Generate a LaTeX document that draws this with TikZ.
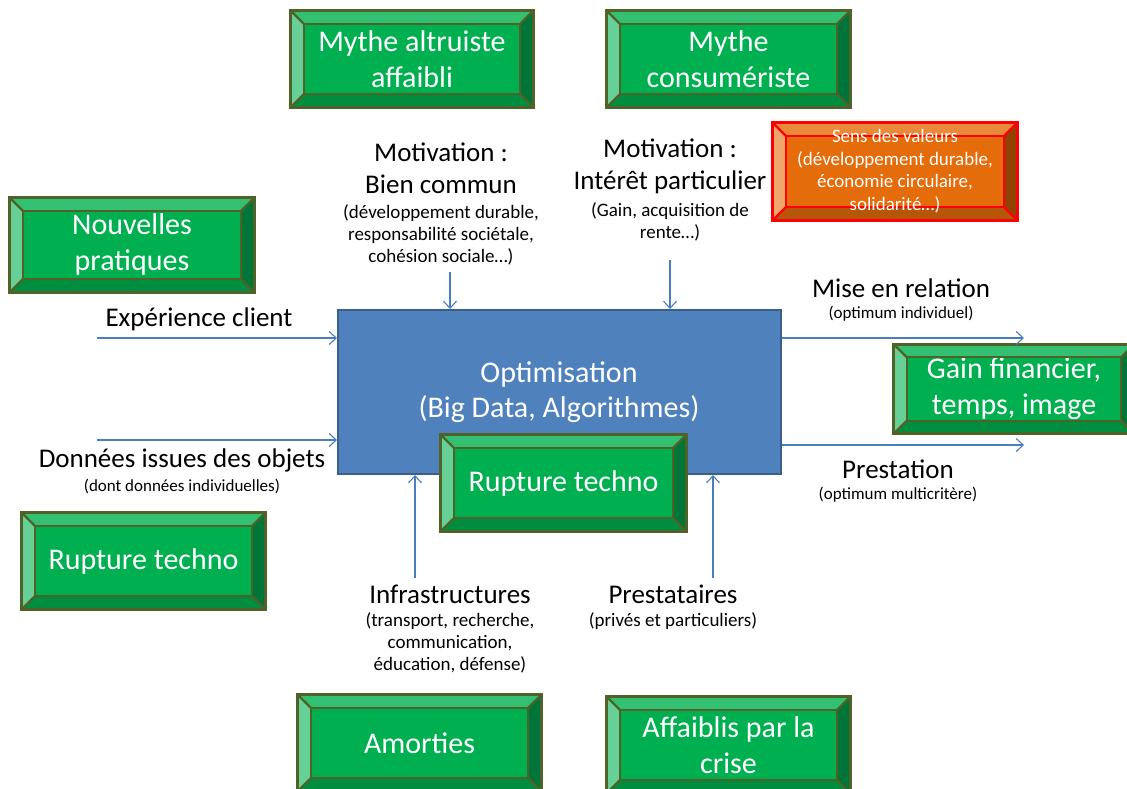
\documentclass[tikz,border=0pt]{standalone}
\usepackage{fontspec}
\setmainfont{Carlito}
\usetikzlibrary{arrows.meta,calc}
\definecolor{gface}{HTML}{00B050}
\definecolor{gtop}{HTML}{33C073}
\definecolor{gleft}{HTML}{66D096}
\definecolor{gright}{HTML}{00753A}
\definecolor{gbot}{HTML}{008D40}
\definecolor{gline}{HTML}{4F6228}
\definecolor{oface}{HTML}{E46C0A}
\definecolor{otop}{HTML}{E98A3B}
\definecolor{oleft}{HTML}{EFA56C}
\definecolor{oright}{HTML}{8F4406}
\definecolor{obot}{HTML}{B55608}
\definecolor{oline}{HTML}{FF0000}
\definecolor{bfill}{HTML}{4F81BD}
\definecolor{bline}{HTML}{3A5F8C}
\definecolor{arrc}{HTML}{4A7EBB}
\tikzset{
  greenbox/.style={rectangle, fill=gface, text=white, align=center, inner sep=0pt,
     font=\fontsize{30}{36}\selectfont},
  orangebox/.style={rectangle, fill=oface, text=white, align=center, inner sep=0pt,
     font=\fontsize{19}{22.5}\selectfont},
  biglbl/.style={align=center, inner sep=0pt, font=\fontsize{27}{32}\selectfont},
  smalllbl/.style={align=center, inner sep=0pt, font=\fontsize{19}{22}\selectfont},
  tinylbl/.style={align=center, inner sep=0pt, font=\fontsize{17}{20}\selectfont},
  arr/.style={draw=arrc, line width=1.1pt, -{Straight Barb[length=7pt,width=13pt,line width=1.1pt]}},
}
% bevel: name, top, left, right, bottom, line colour
\newcommand\bevelbox[6]{%
  \fill[#2] (#1.north west) -- (#1.north east) -- ([shift={(-13,13)}]#1.north east) -- ([shift={(13,13)}]#1.north west) -- cycle;
  \fill[#3] (#1.north west) -- ([shift={(13,13)}]#1.north west) -- ([shift={(13,-13)}]#1.south west) -- (#1.south west) -- cycle;
  \fill[#4] (#1.north east) -- ([shift={(-13,13)}]#1.north east) -- ([shift={(-13,-13)}]#1.south east) -- (#1.south east) -- cycle;
  \fill[#5] (#1.south west) -- ([shift={(13,-13)}]#1.south west) -- ([shift={(-13,-13)}]#1.south east) -- (#1.south east) -- cycle;
  \draw[#6, line width=2.2pt] ([shift={(13,13)}]#1.north west) rectangle ([shift={(-13,-13)}]#1.south east);
  \draw[#6, line width=2.2pt] (#1.north west) -- ([shift={(13,13)}]#1.north west)
     (#1.north east) -- ([shift={(-13,13)}]#1.north east)
     (#1.south west) -- ([shift={(13,-13)}]#1.south west)
     (#1.south east) -- ([shift={(-13,-13)}]#1.south east);
  \draw[#6, line width=3pt] (#1.north west) rectangle (#1.south east);
}
\begin{document}
\begin{tikzpicture}[x=1pt,y=-1pt]
\useasboundingbox (0,0) rectangle (1127,789);
\fill[white] (0,0) rectangle (1127,789);

% central box
\node[rectangle, fill=bfill, draw=bline, line width=2pt, minimum width=443pt, minimum height=164pt, inner sep=0pt] (opt) at (559.5,392) {};
\node[text=white, align=center, inner sep=0pt, font=\fontsize{30}{35}\selectfont] (opttxt) at (559,392) {Optimisation\\(Big Data, Algorithmes)};

% green boxes
\node[greenbox, minimum width=242pt, minimum height=96pt] (alt) at (412,59) {Mythe altruiste\\affaibli};
\bevelbox{alt}{gtop}{gleft}{gright}{gbot}{gline}
\node[greenbox, minimum width=243pt, minimum height=96pt] (cons) at (728.5,59) {Mythe\\consumériste};
\bevelbox{cons}{gtop}{gleft}{gright}{gbot}{gline}
\node[greenbox, minimum width=244pt, minimum height=94pt] (nouv) at (132,245) {Nouvelles\\pratiques};
\bevelbox{nouv}{gtop}{gleft}{gright}{gbot}{gline}
\node[greenbox, minimum width=240pt, minimum height=89pt] (gain) at (1014,389) {Gain financier,\\temps, image};
\bevelbox{gain}{gtop}{gleft}{gright}{gbot}{gline}
\node[greenbox, minimum width=245pt, minimum height=96pt] (rupc) at (563.5,483) {Rupture techno};
\bevelbox{rupc}{gtop}{gleft}{gright}{gbot}{gline}
\node[greenbox, minimum width=243pt, minimum height=96pt] (rupl) at (143.5,561) {Rupture techno};
\bevelbox{rupl}{gtop}{gleft}{gright}{gbot}{gline}
\node[greenbox, minimum width=243pt, minimum height=96pt] (amort) at (419.5,743) {Amorties};
\bevelbox{amort}{gtop}{gleft}{gright}{gbot}{gline}
\node[greenbox, minimum width=243pt, minimum height=96pt] (affa) at (728.5,745) {Affaiblis par la\\crise};
\bevelbox{affa}{gtop}{gleft}{gright}{gbot}{gline}

% orange box
\node[orangebox, minimum width=244pt, minimum height=97pt] (sens) at (895,171.5) {};
\bevelbox{sens}{otop}{oleft}{oright}{obot}{oline}
\node[orangebox, fill=none] (senstxt) at (895,171) {Sens des valeurs\\(développement durable,\\économie circulaire,\\solidarité…)};

% labels
\node[biglbl] (mot1) at (441,168) {Motivation :\\Bien commun};
\node[smalllbl] (mot1s) at (441,235) {(développement durable,\\responsabilité sociétale,\\cohésion sociale…)};
\node[biglbl] (mot2) at (670,166) {Motivation :\\Intérêt particulier};
\node[smalllbl] (mot2s) at (670,222) {(Gain, acquisition de\\rente…)};
\node[biglbl] (exp) at (199,319) {Expérience client};
\node[biglbl] (don) at (182,460) {Données issues des objets};
\node[tinylbl] (dons) at (182,486) {(dont données individuelles)};
\node[biglbl] (mise) at (901,288) {Mise en relation};
\node[tinylbl] (mises) at (901,314) {(optimum individuel)};
\node[biglbl] (prest) at (898,469) {Prestation};
\node[tinylbl] (prests) at (898,495) {(optimum multicritère)};
\node[biglbl] (infra) at (450,594) {Infrastructures};
\node[smalllbl] (infras) at (450,643) {(transport, recherche,\\communication,\\éducation, défense)};
\node[biglbl] (presta) at (673,594) {Prestataires};
\node[smalllbl] (prestas) at (673,621) {(privés et particuliers)};

% arrow free ends
\coordinate (e1) at (97,338);
\coordinate (e2) at (97,440);
\coordinate (t1) at (450,272);
\coordinate (t2) at (670,260);
\coordinate (b1) at (415,578);
\coordinate (b2) at (713,578);
\coordinate (r1) at (1024,338);
\coordinate (r2) at (1024,445);

\draw[arr] (e1) -- (e1 -| opt.west);
\draw[arr] (e2) -- (e2 -| opt.west);
\draw[arr] (t1) -- (t1 |- opt.north);
\draw[arr] (t2) -- (t2 |- opt.north);
\draw[arr] (b1) -- (b1 |- opt.south);
\draw[arr] (b2) -- (b2 |- opt.south);
\draw[arr] (r1 -| opt.east) -- (r1);
\draw[arr] (r2 -| opt.east) -- (r2);
\end{tikzpicture}
\end{document}
